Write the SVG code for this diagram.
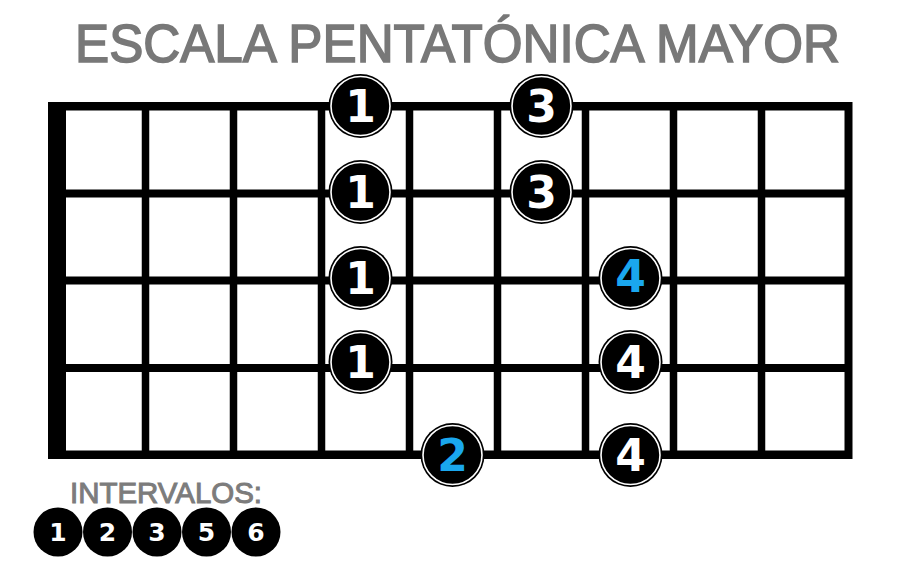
<svg xmlns="http://www.w3.org/2000/svg" width="900" height="563" viewBox="0 0 900 563">
<style>
.bar{fill:#000}
.dot{fill:#000}
.ring{fill:none;stroke:#fff;stroke-width:1.6}
.num{font-family:"DejaVu Sans",Arial,sans-serif;font-weight:bold;font-size:44px;text-anchor:middle;fill:#fff}
.blue{fill:#1aa7ee}
.lnum{font-family:"DejaVu Sans",Arial,sans-serif;font-weight:bold;font-size:25px;text-anchor:middle;fill:#fff}
.title{font-family:"Liberation Sans",Arial,sans-serif;font-size:54px;fill:#787878;stroke:#787878;stroke-width:1.6}
.sub{font-family:"Liberation Sans",Arial,sans-serif;font-size:29px;fill:#7c7c7c;stroke:#7c7c7c;stroke-width:1}
</style>
<rect width="900" height="563" fill="#fff"/>
<text class="title" x="75" y="62" textLength="765" lengthAdjust="spacingAndGlyphs">ESCALA PENTATÓNICA MAYOR</text>
<g id="fretboard">
<rect class="bar" x="48" y="102" width="18" height="357"/>
<rect class="bar" x="48" y="102" width="804" height="8.5"/>
<rect class="bar" x="48" y="450.5" width="804" height="8.5"/>
<rect class="bar" x="844.5" y="102" width="8" height="357"/>
<rect class="bar" x="48" y="189.5" width="804" height="8"/>
<rect class="bar" x="48" y="276.5" width="804" height="8"/>
<rect class="bar" x="48" y="364" width="804" height="8"/>
<rect class="bar" x="141.75" y="102" width="7.5" height="357"/>
<rect class="bar" x="229.75" y="102" width="7.5" height="357"/>
<rect class="bar" x="317.75" y="102" width="7.5" height="357"/>
<rect class="bar" x="405.75" y="102" width="7.5" height="357"/>
<rect class="bar" x="493.75" y="102" width="7.5" height="357"/>
<rect class="bar" x="581.75" y="102" width="7.5" height="357"/>
<rect class="bar" x="669.75" y="102" width="7.5" height="357"/>
<rect class="bar" x="757.75" y="102" width="7.5" height="357"/>
</g>
<g id="n1a"><circle class="dot" cx="360.5" cy="106" r="32"/><circle class="ring" cx="360.5" cy="106" r="29.5"/><text class="num" x="360.5" y="122">1</text></g>
<g id="n1b"><circle class="dot" cx="360.5" cy="192" r="32"/><circle class="ring" cx="360.5" cy="192" r="29.5"/><text class="num" x="360.5" y="208">1</text></g>
<g id="n1c"><circle class="dot" cx="360.5" cy="278" r="32"/><circle class="ring" cx="360.5" cy="278" r="29.5"/><text class="num" x="360.5" y="294">1</text></g>
<g id="n1d"><circle class="dot" cx="360.5" cy="362" r="32"/><circle class="ring" cx="360.5" cy="362" r="29.5"/><text class="num" x="360.5" y="378">1</text></g>
<g id="n3a"><circle class="dot" cx="541.5" cy="106" r="32"/><circle class="ring" cx="541.5" cy="106" r="29.5"/><text class="num" x="541.5" y="122">3</text></g>
<g id="n3b"><circle class="dot" cx="541.5" cy="192" r="32"/><circle class="ring" cx="541.5" cy="192" r="29.5"/><text class="num" x="541.5" y="208">3</text></g>
<g id="n4a"><circle class="dot" cx="630.5" cy="278" r="32"/><circle class="ring" cx="630.5" cy="278" r="29.5"/><text class="num blue" x="630.5" y="292">4</text></g>
<g id="n4b"><circle class="dot" cx="630.5" cy="362" r="32"/><circle class="ring" cx="630.5" cy="362" r="29.5"/><text class="num" x="630.5" y="378">4</text></g>
<g id="n4c"><circle class="dot" cx="630.5" cy="455" r="32"/><circle class="ring" cx="630.5" cy="455" r="29.5"/><text class="num" x="630.5" y="471">4</text></g>
<g id="n2"><circle class="dot" cx="452.5" cy="455" r="32"/><circle class="ring" cx="452.5" cy="455" r="29.5"/><text class="num blue" x="452.5" y="471">2</text></g>
<g id="legend">
<text class="sub" x="70" y="503" textLength="192" lengthAdjust="spacingAndGlyphs">INTERVALOS:</text>
<circle class="dot" cx="58" cy="532" r="24.5"/><text class="lnum" x="58" y="541">1</text>
<circle class="dot" cx="107.5" cy="532" r="24.5"/><text class="lnum" x="107.5" y="541">2</text>
<circle class="dot" cx="157" cy="532" r="24.5"/><text class="lnum" x="157" y="541">3</text>
<circle class="dot" cx="206.5" cy="532" r="24.5"/><text class="lnum" x="206.5" y="541">5</text>
<circle class="dot" cx="256" cy="532" r="24.5"/><text class="lnum" x="256" y="541">6</text>
</g>
</svg>
